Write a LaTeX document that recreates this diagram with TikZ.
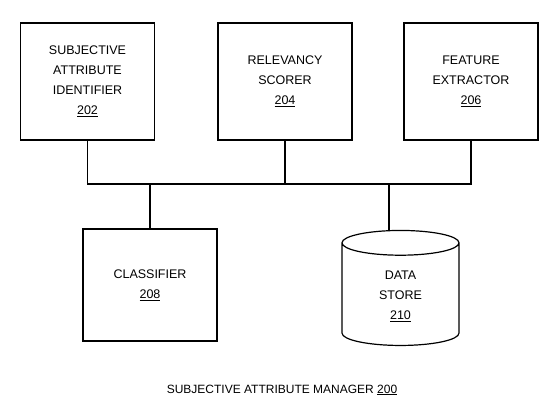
\documentclass[tikz,border=0pt]{standalone}
\usepackage{fontspec}
\setmainfont{Liberation Sans}
\usetikzlibrary{shapes.geometric}
\begin{document}
\begin{tikzpicture}[
  x=1pt, y=1pt,
  block/.style={rectangle, draw, line width=1.2pt, minimum width=134pt, minimum height=117pt, align=center, font=\fontsize{12.5}{20}\selectfont},
  store/.style={cylinder, shape border rotate=90, aspect=0.5, draw, line width=1.2pt, minimum width=117pt, minimum height=115pt, align=center, font=\fontsize{12.5}{20}\selectfont},
  link/.style={line width=1.2pt},
  node distance=190pt
]
\useasboundingbox (0,0) rectangle (549,-401);
\node[block] (ident) at (87.5,-81.5) {SUBJECTIVE\\ATTRIBUTE\\IDENTIFIER\\\underline{202}};
\node[block, right of=ident, node distance=197.5pt] (scorer) {RELEVANCY\\SCORER\\\underline{204}};
\node[block, right of=scorer, node distance=186pt] (extract) {FEATURE\\EXTRACTOR\\\underline{206}};
\node[block, minimum height=112pt] (classif) at (150,-285) {CLASSIFIER\\\underline{208}};
\node[store] (store) at (400.5,-296.5) {DATA\\STORE\\\underline{210}};
\node[font=\fontsize{12}{14}\selectfont] (title) at (282,-390) {SUBJECTIVE ATTRIBUTE MANAGER \underline{200}};

\coordinate (bus) at (0,-184);
\coordinate (drop) at (389,-184);
\draw[link] (ident.south) -- (ident.south |- bus) -- (extract.south |- bus) -- (extract.south);
\draw[link] (scorer.south) -- (scorer.south |- bus);
\draw[link] (classif.north |- bus) -- (classif.north);
\draw[link] (drop) -- (drop |- store.north);
\end{tikzpicture}
\end{document}
